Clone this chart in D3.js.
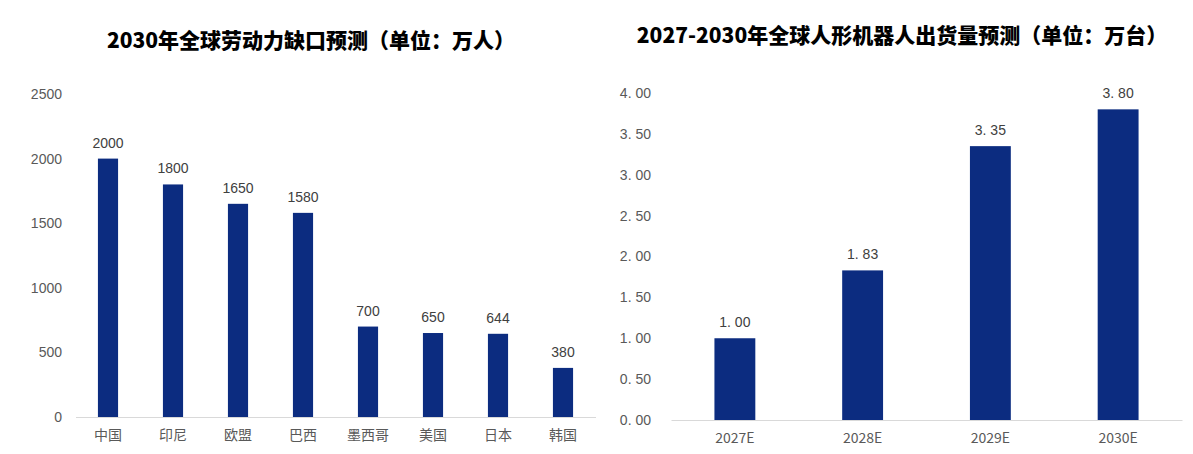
<!DOCTYPE html>
<html><head><meta charset="utf-8">
<script src="https://cdn.jsdelivr.net/npm/d3@7"></script>
<style>
html,body{margin:0;padding:0;background:#fff;}
svg text{font-family:"Liberation Sans","Noto Sans CJK SC",sans-serif;}
</style></head>
<body>
<svg id="c" width="1193" height="454"></svg>
<script>
const leftTitle = "2030年全球劳动力缺口预测（单位：万人）";
const leftCategories = ["中国","印尼","欧盟","巴西","墨西哥","美国","日本","韩国"];
const leftValues = [2000,1800,1650,1580,700,650,644,380];
const leftTicks = [0,500,1000,1500,2000,2500];

const rightTitle = "2027-2030年全球人形机器人出货量预测（单位：万台）";
const rightCategories = ["2027E","2028E","2029E","2030E"];
const rightValues = [1.00,1.83,3.35,3.80];
const rightTicks = [0,0.5,1,1.5,2,2.5,3,3.5,4];

const barColor = "#0c2c80";
const textColor = "#595959";
const svg = d3.select("#c");

function drawChart(cfg){
  const g = svg.append("g");
  const x = d3.scaleBand().domain(cfg.cats).range([cfg.x0, cfg.x1]).paddingInner(cfg.pad).paddingOuter(cfg.pad/2);
  const y = d3.scaleLinear().domain([0, cfg.max]).range([cfg.y0, cfg.y1]);
  // title
  g.append("text").attr("x", cfg.tx).attr("y", cfg.ty).attr("text-anchor","middle")
    .attr("font-size", 21).attr("font-weight",900).attr("fill","#000")
    .style("font-family",'"Noto Sans CJK SC","Liberation Sans",sans-serif')
    .text(cfg.title);
  // y axis labels
  const ya = d3.axisLeft(y).tickValues(cfg.ticks).tickSize(0).tickPadding(0).tickFormat(cfg.fmt);
  const yg = g.append("g").attr("transform",`translate(${cfg.ylx},0)`).call(ya);
  yg.select(".domain").remove();
  yg.selectAll("text").attr("fill",textColor).attr("font-size",14)
    .style("font-family",'"Liberation Sans",sans-serif');
  // bars
  g.selectAll("rect.b").data(cfg.vals).join("rect").attr("class","b")
    .attr("x",(d,i)=>x(cfg.cats[i])).attr("width",x.bandwidth())
    .attr("y",d=>y(d)).attr("height",d=>y(0)-y(d)).attr("fill",barColor);
  // value labels
  g.selectAll("text.v").data(cfg.vals).join("text").attr("class","v")
    .attr("x",(d,i)=>x(cfg.cats[i])+x.bandwidth()/2).attr("y",d=>y(d)-11)
    .attr("text-anchor","middle").attr("font-size",14).attr("fill","#404040")
    .style("font-family",'"Liberation Sans",sans-serif')
    .text(cfg.fmt);
  // x axis
  const xa = d3.axisBottom(x).tickSize(0).tickPadding(13);
  const xg = g.append("g").attr("transform",`translate(0,${cfg.y0})`).call(xa);
  xg.select(".domain").attr("stroke","#d9d9d9").attr("stroke-width",1.2);
  xg.selectAll("text").attr("fill",textColor).attr("font-size",14)
    .style("font-family",'"Noto Sans CJK SC","Liberation Sans",sans-serif');
}

drawChart({title:leftTitle, cats:leftCategories, vals:leftValues, ticks:leftTicks, max:2500,
  x0:75.5, x1:595.5, pad:0.69, y0:417, y1:94, tx:311, ty:48, ylx:62,
  fmt:d3.format("d")});

const f2 = d3.format(".2f");
drawChart({title:rightTitle, cats:rightCategories, vals:rightValues, ticks:rightTicks, max:4,
  x0:671, x1:1182, pad:0.68, y0:420, y1:93, tx:902, ty:43, ylx:651,
  fmt:d=>f2(d).replace(".",". ")});
</script>
</body></html>
